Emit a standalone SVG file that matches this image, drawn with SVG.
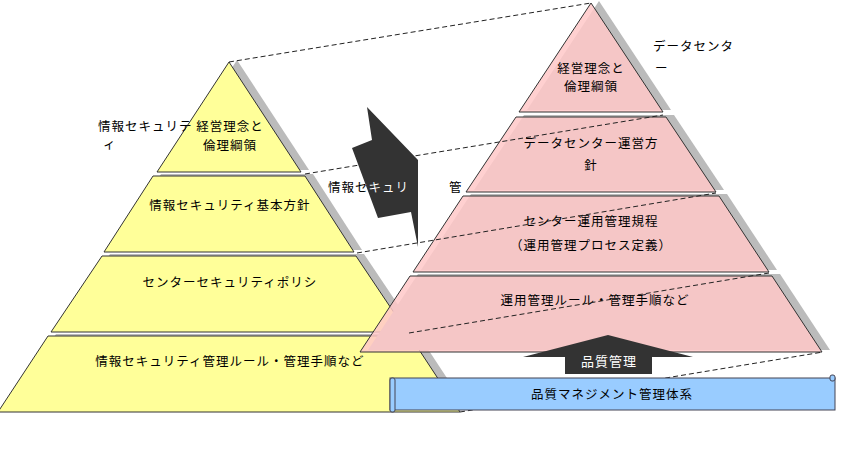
<svg xmlns="http://www.w3.org/2000/svg" width="864" height="451" viewBox="0 0 864 451">
<style>
text{font-family:"Noto Sans CJK JP","Noto Sans",sans-serif;font-size:12.5px;letter-spacing:1px;fill:#000}
.c{text-anchor:middle}
.y{fill:#FFFF99;stroke:#333;stroke-width:1}
.p{fill:#FFC8C8;fill-opacity:0.85;stroke:#333;stroke-width:1}
.s{fill:#BBB}
.d{stroke:#222;stroke-width:1;stroke-dasharray:5,3;fill:none}
</style>
<defs><clipPath id="ac"><polygon points="367,107 418,160 418,247 411,212 378,218 352,148 372,140"/></clipPath></defs>
<g id="left-pyramid">
<g transform="translate(8,-2)" class="s">
<polygon points="229,62 301,172 157,172"/><polygon points="153,176 305,176 354,252 104,252"/><polygon points="102,256 356,256 407,332 51,332"/><polygon points="48,336 410,336 460,412 -2,412"/>
</g>
<polygon class="y" points="229,62 301,172 157,172"/>
<polygon class="y" points="153,176 305,176 354,252 104,252"/>
<polygon class="y" points="102,256 356,256 407,332 51,332"/>
<polygon class="y" points="48,336 410,336 460,412 -2,412"/>
<text class="c" x="230" y="131">経営理念と</text><text class="c" x="230" y="150">倫理綱領</text>
<text class="c" x="230" y="210">情報セキュリティ基本方針</text>
<text class="c" x="230" y="287">センターセキュリティポリシ</text>
<text class="c" x="230" y="366">情報セキュリティ管理ルール・管理手順など</text>
</g>
<g id="right-pyramid">
<g transform="translate(8,-2)" class="s">
<polygon points="591,3 663,112 519,112"/><polygon points="516,117 666,117 716,192 466,192"/><polygon points="463,196 719,196 769,272 413,272"/><polygon points="410,276 772,276 822,352 360,352"/>
</g>
<polygon class="p" points="591,3 663,112 519,112"/>
<polygon class="p" points="516,117 666,117 716,192 466,192"/>
<polygon class="p" points="463,196 719,196 769,272 413,272"/>
<polygon class="p" points="410,276 772,276 822,352 360,352"/>
<text class="c" x="591" y="73">経営理念と</text><text class="c" x="591" y="91">倫理綱領</text>
<text class="c" x="591" y="148">データセンター運営方</text><text class="c" x="591" y="170">針</text>
<text class="c" x="591" y="226">センター運用管理規程</text><text class="c" x="591" y="250">（運用管理プロセス定義）</text>
<text class="c" x="595" y="305">運用管理ルール・管理手順など</text>
</g>
<g id="connectors">
<line class="d" x1="229" y1="62" x2="591" y2="3"/>
<line class="d" x1="305" y1="174" x2="663" y2="115"/>
<line class="d" x1="357" y1="253" x2="716" y2="193"/>
<line class="d" x1="409" y1="333" x2="769" y2="273"/>
<line class="d" x1="460" y1="412" x2="823" y2="352"/>
</g>
<g id="transition-arrow">
<polygon fill="#333" points="367,107 418,160 418,247 411,212 378,218 352,148 372,140"/>
<text x="328" y="192">情報セキュリ</text>
<text x="328" y="192" clip-path="url(#ac)" style="fill:#fff">情報セキュリ</text>
<text x="449" y="192">管</text>
</g>
<g id="labels">
<text x="98" y="131">情報セキュリテ</text><text x="103" y="149">ィ</text>
<text x="653" y="51">データセンタ</text><text x="655" y="73">ー</text>
</g>
<g id="quality-arrow">
<polygon fill="#333" points="608,335 693,357 652,357 652,374 565,374 565,357 523,357"/>
<text class="c" x="609" y="366" style="fill:#fff;font-size:13px">品質管理</text>
</g>
<g id="qms-bar">
<rect x="390" y="378" width="445" height="32" fill="#99CCFF" stroke="#445" stroke-width="1"/>
<rect x="390" y="378" width="5" height="34" rx="2" fill="#99CCFF" stroke="#445"/>
<rect x="830" y="375" width="5" height="6" rx="2" fill="#99CCFF" stroke="#445"/>
<text class="c" x="612" y="399">品質マネジメント管理体系</text>
</g>
</svg>
